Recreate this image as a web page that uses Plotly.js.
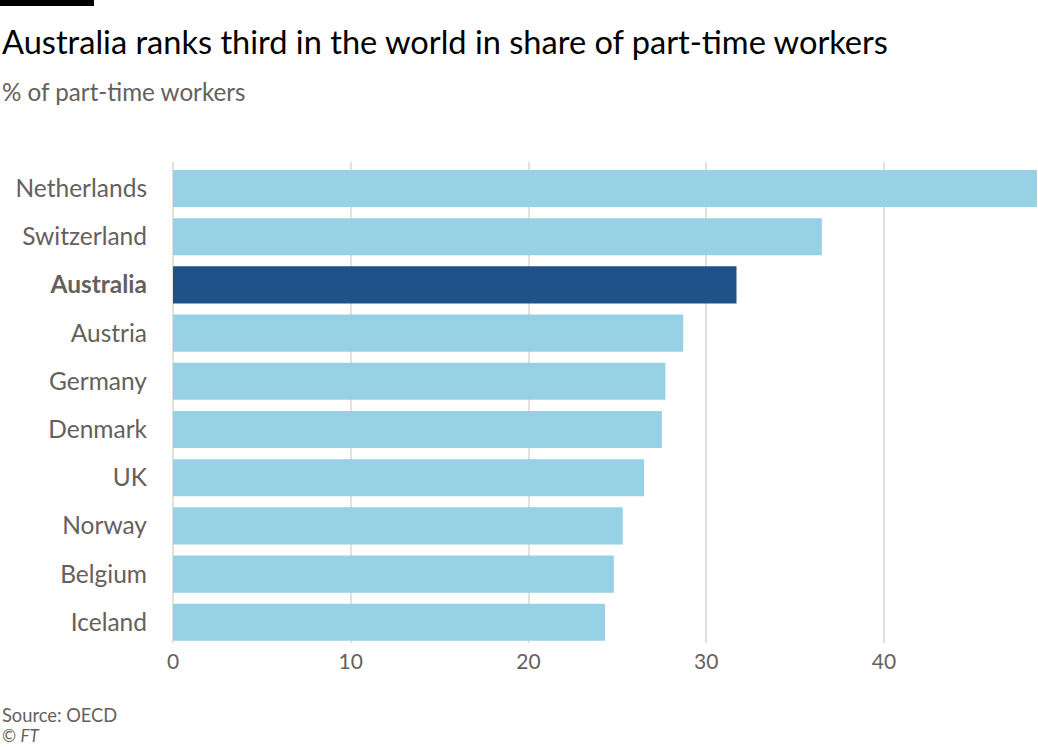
<!DOCTYPE html>
<html><head><meta charset="utf-8">
<script src="https://cdn.plot.ly/plotly-3.0.1.min.js"></script>
<style>body{margin:0;background:#fff}#c{width:1038px;height:747px}</style>
</head><body><div id="c"></div>
<script>
const countries = ["Netherlands","Switzerland","Australia","Austria","Germany","Denmark","UK","Norway","Belgium","Iceland"];
const shares = [48.6, 36.5, 31.7, 28.7, 27.7, 27.5, 26.5, 25.3, 24.8, 24.3];
const highlight = "Australia";
const xTicks = [0, 10, 20, 30, 40];

const FONT = "Lato, 'Open Sans', sans-serif";
const colors = countries.map(c => c === highlight ? "#1f5289" : "#96d1e6");
const tickText = countries.map(c => c === highlight ? "<b>" + c + "</b>" : c);

Plotly.newPlot("c", [{
  type: "bar", orientation: "h",
  y: countries, x: shares,
  marker: {color: colors, line: {width: 0}},
  width: 0.77, hoverinfo: "x+y"
}], {
  width: 1038, height: 747,
  margin: {l: 173, r: 0, t: 162, b: 104},
  paper_bgcolor: "#fff", plot_bgcolor: "#fff",
  font: {family: FONT, color: "#66605c"},
  showlegend: false,
  xaxis: {
    range: [0, 48.66], tickvals: xTicks, ticktext: xTicks.map(String),
    showgrid: true, gridcolor: "#e6e0da", gridwidth: 2,
    zeroline: true, zerolinecolor: "#e6e0da", zerolinewidth: 2,
    showline: false, ticks: "", tickfont: {size: 21, color: "#66605c", family: FONT},
    ticklabelstandoff: 4, fixedrange: true
  },
  yaxis: {
    type: "category", categoryorder: "array", categoryarray: countries,
    range: [9.43, -0.55], tickvals: countries, ticktext: tickText,
    showgrid: false, zeroline: false, showline: false, ticks: "",
    tickfont: {size: 24.5, color: "#66605c", family: FONT},
    ticklabelstandoff: 25, fixedrange: true
  },
  annotations: [
    {xref: "paper", yref: "paper", x: -173/865, y: 1 + (162-41)/481, xanchor: "left", yanchor: "middle", showarrow: false,
     text: "Australia ranks third in the world in share of part-time workers", font: {size: 32.6, color: "#000", family: FONT}},
    {xref: "paper", yref: "paper", x: -173/865, y: 1 + (162-92)/481, xanchor: "left", yanchor: "middle", showarrow: false,
     text: "% of part-time workers", font: {size: 24.2, color: "#66605c", family: FONT}},
    {xref: "paper", yref: "paper", x: -173/865, y: 1 - (715-162)/481, xanchor: "left", yanchor: "middle", showarrow: false,
     text: "Source: OECD", font: {size: 18.3, color: "#66605c", family: FONT}},
    {xref: "paper", yref: "paper", x: -173/865, y: 1 - (735-162)/481, xanchor: "left", yanchor: "middle", showarrow: false,
     text: "© <i>FT</i>", font: {size: 17, color: "#66605c", family: FONT}}
  ]
}, {displayModeBar: false, staticPlot: true}).then(() => {
  const d = document.createElement("div");
  d.style.cssText = "position:absolute;left:0;top:0;width:94px;height:6px;background:#000";
  document.body.appendChild(d);
});
</script></body></html>
